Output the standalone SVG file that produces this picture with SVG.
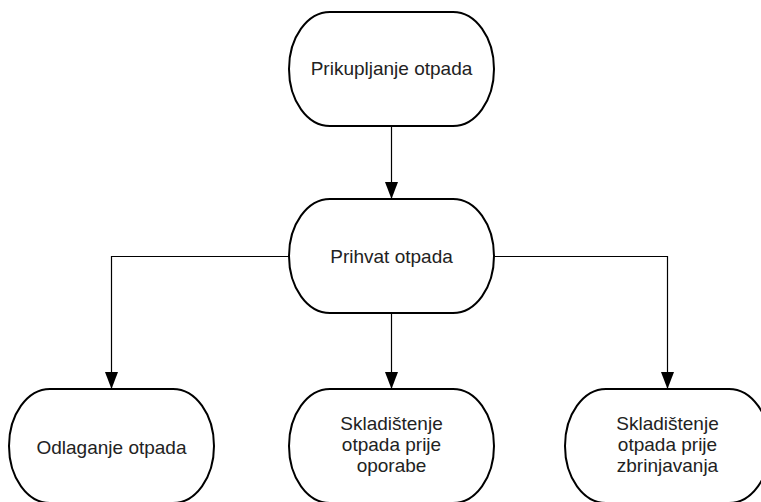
<svg xmlns="http://www.w3.org/2000/svg" width="761" height="502" viewBox="0 0 761 502">
<style>
.node{fill:#ffffff;stroke:#000000;stroke-width:2}
.lbl{font-family:"Liberation Sans",Arial,sans-serif;font-size:19px;fill:#222222;text-anchor:middle}
.conn{fill:none;stroke:#000000;stroke-width:1.2}
</style>
<defs>
<marker id="arr" markerUnits="userSpaceOnUse" markerWidth="17" markerHeight="13" refX="17" refY="6.5" viewBox="0 0 17 13" orient="auto">
<path d="M0,0 L17,6.5 L0,13 Z" fill="#000000"/>
</marker>
</defs>
<rect x="0" y="0" width="761" height="502" fill="#ffffff"/>
<g id="connectors">
<path class="conn" d="M391.5,126 L391.5,199" marker-end="url(#arr)"/>
<path class="conn" d="M288.5,256.5 L111.5,256.5 L111.5,389" marker-end="url(#arr)"/>
<path class="conn" d="M391.5,313 L391.5,389" marker-end="url(#arr)"/>
<path class="conn" d="M494.5,256.5 L667.5,256.5 L667.5,389" marker-end="url(#arr)"/>
</g>
<g id="prikupljanje">
<rect class="node" x="289" y="12" width="205" height="114" rx="41" ry="57"/>
<text class="lbl" x="391.5" y="75">Prikupljanje otpada</text>
</g>
<g id="prihvat">
<rect class="node" x="289" y="199" width="205" height="114" rx="41" ry="57"/>
<text class="lbl" x="391.5" y="263">Prihvat otpada</text>
</g>
<g id="odlaganje">
<rect class="node" x="9" y="389" width="205" height="114" rx="41" ry="57"/>
<text class="lbl" x="111.5" y="454">Odlaganje otpada</text>
</g>
<g id="skladistenje-oporabe">
<rect class="node" x="289" y="389" width="205" height="114" rx="41" ry="57"/>
<text class="lbl" x="391.5" y="430">Skladištenje</text>
<text class="lbl" x="391.5" y="451">otpada prije</text>
<text class="lbl" x="391.5" y="472">oporabe</text>
</g>
<g id="skladistenje-zbrinjavanja">
<rect class="node" x="565" y="389" width="205" height="114" rx="41" ry="57"/>
<text class="lbl" x="667.5" y="430">Skladištenje</text>
<text class="lbl" x="667.5" y="451">otpada prije</text>
<text class="lbl" x="667.5" y="472">zbrinjavanja</text>
</g>
</svg>
